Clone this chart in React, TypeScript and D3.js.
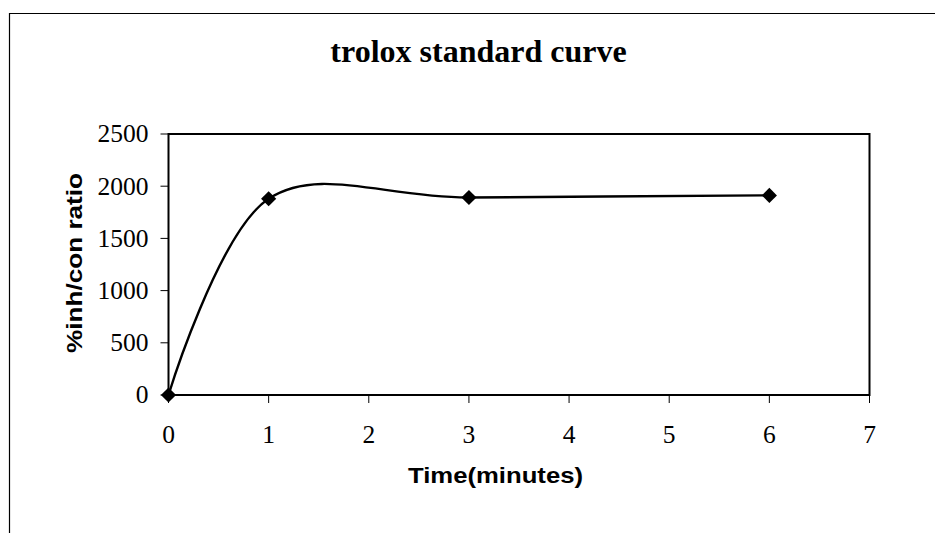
import React from 'react'
import {scaleLinear, line, curveCardinal, symbol, symbolSquare} from 'd3'

const times = [0, 1, 3, 6]
const values = [0, 1880, 1892, 1912]
const xTicks = [0, 1, 2, 3, 4, 5, 6, 7]
const yTicks = [0, 500, 1000, 1500, 2000, 2500]

const App = () => {
    const width = 935, height = 533
    const plot = {left: 168.5, right: 869.5, top: 134, bottom: 395}

    const xScale = scaleLinear().domain([0, 7]).range([plot.left, plot.right])
    const yScale = scaleLinear().domain([0, 2500]).range([plot.bottom, plot.top])

    const pts = times.map((t, i) => [xScale(t), yScale(values[i])] as [number, number])
    const path = line().curve(curveCardinal.tension(0))(pts)
    // excel style diamond = square turned 45deg
    const diamond = symbol().type(symbolSquare).size(115)()

    const serif = '"Liberation Serif", "Times New Roman", serif'
    const sans = '"Liberation Sans", Arial, sans-serif'

    return (
        <svg width={width} height={height} style={{position: 'absolute', left: 0, top: 0}}>
            <rect x={0} y={0} width={width} height={height} fill="#fff"/>
            {/* outer chart frame, runs off right and bottom */}
            <path d={`M9.5,${height + 2} V13.5 H${width + 2}`} fill="none" stroke="#000" strokeWidth={1.2}/>

            <text x={478.5} y={62} textAnchor="middle" fontFamily={serif} fontWeight="bold" fontSize={32}>trolox standard curve</text>

            <rect x={plot.left} y={plot.top} width={plot.right - plot.left} height={plot.bottom - plot.top}
                  fill="none" stroke="#000" strokeWidth={2}/>

            {yTicks.map(t => (
                <g key={'y' + t}>
                    <line x1={plot.left - 8} x2={plot.left} y1={yScale(t)} y2={yScale(t)} stroke="#000" strokeWidth={1}/>
                    <text x={plot.left - 20} y={yScale(t)} dy="0.33em" textAnchor="end" fontFamily={serif} fontSize={25.5}>{t}</text>
                </g>
            ))}
            {xTicks.map(t => (
                <g key={'x' + t}>
                    <line x1={xScale(t)} x2={xScale(t)} y1={plot.bottom} y2={plot.bottom + 8} stroke="#000" strokeWidth={1}/>
                    <text x={xScale(t)} y={443} textAnchor="middle" fontFamily={serif} fontSize={25.5}>{t}</text>
                </g>
            ))}

            <text x={495.5} y={483} textAnchor="middle" fontFamily={sans} fontWeight="bold" fontSize={22}
                  textLength={175} lengthAdjust="spacingAndGlyphs">Time(minutes)</text>
            <text transform={`translate(82,263) rotate(-90)`} textAnchor="middle"
                  fontFamily={sans} fontWeight="bold" fontSize={22}
                  textLength={180} lengthAdjust="spacingAndGlyphs">%inh/con ratio</text>

            <path d={path || ''} fill="none" stroke="#000" strokeWidth={2.4}/>
            {pts.map((p, i) => (
                <path key={i} d={diamond || ''} transform={`translate(${p[0]},${p[1]}) rotate(45)`} fill="#000"/>
            ))}
        </svg>
    )
}

export default App
